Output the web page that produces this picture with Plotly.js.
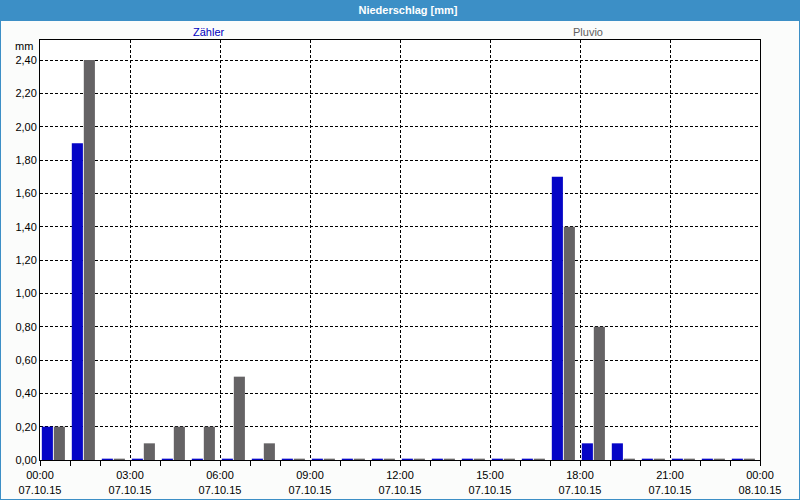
<!DOCTYPE html>
<html>
<head>
<meta charset="utf-8">
<script src="https://cdn.plot.ly/plotly-3.0.1.min.js"></script>
<style>html,body{margin:0;padding:0;background:#fbfcfb;}#chart{width:800px;height:500px;}</style>
</head>
<body>
<div id="chart"></div>
<script>
const day = '2015-10-07';
const hours = ['00:00','01:00','02:00','03:00','04:00','05:00','06:00','07:00','08:00','09:00','10:00','11:00',
               '12:00','13:00','14:00','15:00','16:00','17:00','18:00','19:00','20:00','21:00','22:00','23:00'];
const zaehler = [0.2, 1.9, 0.008, 0.008, 0.008, 0.008, 0.008, 0.008, 0.008, 0.008, 0.008, 0.008,
                 0.008, 0.008, 0.008, 0.008, 0.008, 1.7, 0.1, 0.1, 0.008, 0.008, 0.008, 0.008];
const pluvio  = [0.2, 2.4, 0.008, 0.1, 0.2, 0.2, 0.5, 0.1, 0.008, 0.008, 0.008, 0.008,
                 0.008, 0.008, 0.008, 0.008, 0.008, 1.4, 0.8, 0.008, 0.008, 0.008, 0.008, 0.008];
const seriesNames = ['Zähler', 'Pluvio'];
const seriesColors = ['#0505c6', '#656365'];
const legendColors = ['#0000c0', '#606060'];
const titleText = 'Niederschlag [mm]';
const unitText = 'mm';

const H = 3600000;
const xs = hours.map(h => day + ' ' + h);
const font = {family: 'Liberation Sans, Arial, sans-serif', size: 11, color: '#000'};

const traces = [
  {type: 'bar', x: xs, y: zaehler, name: seriesNames[0], offset: 0.06 * H, width: 0.37 * H,
   marker: {color: seriesColors[0], line: {width: 0}}, hoverinfo: 'skip'},
  {type: 'bar', x: xs, y: pluvio, name: seriesNames[1], offset: 0.46 * H, width: 0.37 * H,
   marker: {color: seriesColors[1], line: {width: 0}}, hoverinfo: 'skip'}
];

const layout = {
  width: 800, height: 500,
  margin: {l: 40, r: 40, t: 40, b: 40},
  paper_bgcolor: '#fbfcfb',
  plot_bgcolor: '#ffffff',
  separators: ', ',
  showlegend: false,
  barmode: 'overlay',
  font: font,
  title: {text: '<b>' + titleText + '</b>', font: {family: font.family, size: 11, color: '#ffffff'},
          x: 0.51, xanchor: 'center', y: 0.98, yanchor: 'middle', yref: 'container'},
  xaxis: {
    type: 'date',
    range: [day + ' 00:00', '2015-10-08 00:00'],
    tick0: day + ' 00:00', dtick: 3 * H,
    tickformat: '%H:%M<br>%d.%m.%y',
    ticks: 'outside', ticklen: 5, tickcolor: '#000', tickwidth: 1,
    minor: {dtick: H, ticks: 'outside', ticklen: 5, tickcolor: '#000', showgrid: false},
    showgrid: true, gridcolor: '#000', gridwidth: 1, griddash: '3px,2px',
    showline: true, linecolor: '#000', linewidth: 1, mirror: true,
    zeroline: false, fixedrange: true, tickfont: font
  },
  yaxis: {
    range: [0, 2.52], tick0: 0, dtick: 0.2, tickformat: '.2f',
    ticks: '', showgrid: true, gridcolor: '#000', gridwidth: 1, griddash: '3px,2px',
    showline: true, linecolor: '#000', linewidth: 1, mirror: true,
    zeroline: false, fixedrange: true, tickfont: font
  },
  shapes: [
    {type: 'rect', xref: 'paper', yref: 'paper', x0: -40/720, x1: 760/720, y0: (460-21)/420, y1: 460/420,
     fillcolor: '#3c8fc6', line: {width: 0}, layer: 'below'},
    {type: 'rect', xref: 'paper', yref: 'paper', x0: -40/720, x1: 760/720, y0: -40/420, y1: 460/420,
     fillcolor: 'rgba(0,0,0,0)', line: {color: '#3c8fc6', width: 2}, layer: 'above'}
  ],
  annotations: [
    {text: seriesNames[0], xref: 'paper', yref: 'paper', x: (209-40)/720, y: (460-32)/420,
     xanchor: 'center', yanchor: 'middle', showarrow: false, font: {family: font.family, size: 11, color: legendColors[0]}},
    {text: seriesNames[1], xref: 'paper', yref: 'paper', x: (588-40)/720, y: (460-32)/420,
     xanchor: 'center', yanchor: 'middle', showarrow: false, font: {family: font.family, size: 11, color: legendColors[1]}},
    {text: unitText, xref: 'paper', yref: 'paper', x: (35-40)/720, y: (460-46)/420,
     xanchor: 'right', yanchor: 'middle', showarrow: false, font: font}
  ]
};

Plotly.newPlot('chart', traces, layout, {displayModeBar: false, staticPlot: true});
</script>
</body>
</html>
